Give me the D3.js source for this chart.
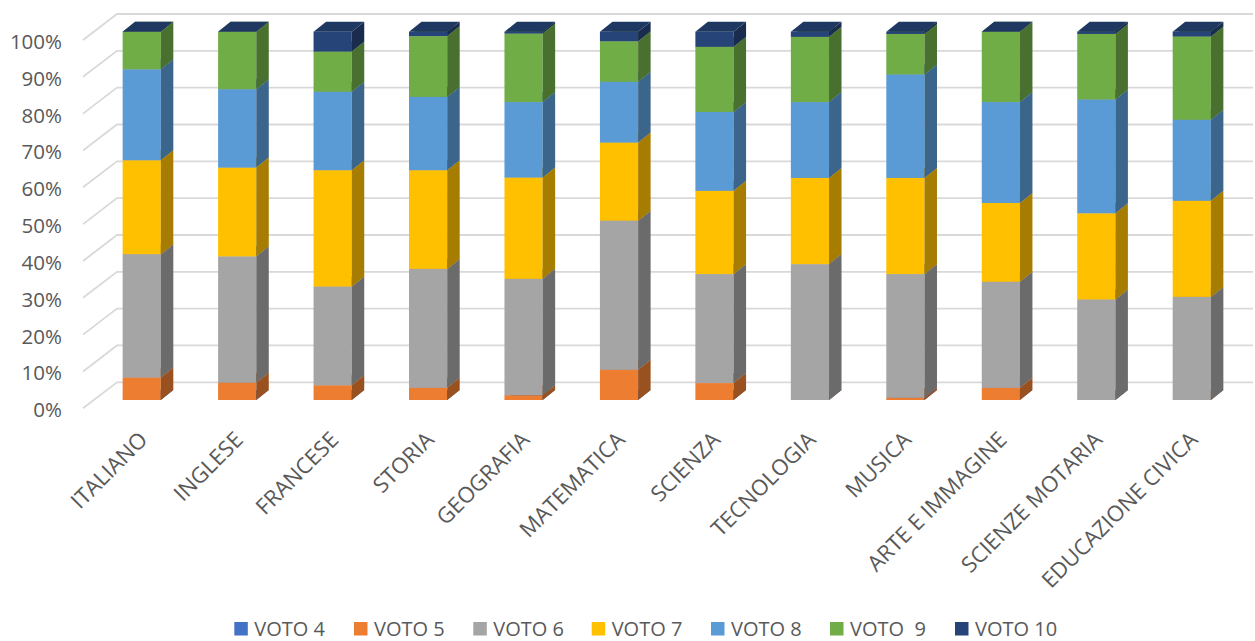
<!DOCTYPE html>
<html>
<head>
<meta charset="utf-8">
<script src="https://cdn.jsdelivr.net/npm/d3@7"></script>
<style>
  body { margin: 0; background: #fff; }
  text { font-family: "Open Sans", "Liberation Sans", sans-serif; fill: #595959; }
</style>
</head>
<body>
<div id="chart"></div>
<script>
// subjects on the x axis
var categories = ["ITALIANO", "INGLESE", "FRANCESE", "STORIA", "GEOGRAFIA", "MATEMATICA",
  "SCIENZA", "TECNOLOGIA", "MUSICA", "ARTE E IMMAGINE", "SCIENZE MOTARIA", "EDUCAZIONE CIVICA"];

var seriesNames = ["VOTO 4", "VOTO 5", "VOTO 6", "VOTO 7", "VOTO 8", "VOTO  9", "VOTO 10"];
var seriesColors = ["#4472C4", "#ED7D31", "#A5A5A5", "#FFC000", "#5B9BD5", "#70AD47", "#264478"];

// percent of students per grade
var voto4  = [0, 0, 0, 0, 0, 0, 0, 0, 0, 0, 0, 0];
var voto5  = [6.1, 4.7, 4.0, 3.3, 1.3, 8.2, 4.6, 0, 0.6, 3.3, 0, 0];
var voto6  = [33.5, 34.3, 26.8, 32.3, 31.6, 40.5, 29.6, 36.9, 33.6, 28.8, 27.3, 28.0];
var voto7  = [25.5, 24.1, 31.6, 26.8, 27.5, 21.2, 22.6, 23.4, 26.1, 21.4, 23.4, 26.1];
var voto8  = [24.7, 21.3, 21.3, 19.9, 20.5, 16.5, 21.4, 20.6, 28.1, 27.4, 30.9, 22.0];
var voto9  = [10.2, 15.6, 10.9, 16.5, 18.6, 11.0, 17.7, 17.7, 11.0, 19.1, 17.8, 22.6];
var voto10 = [0, 0, 5.4, 1.2, 0.5, 2.6, 4.1, 1.4, 0.6, 0, 0.6, 1.3];

var yTicks = [0, 0.1, 0.2, 0.3, 0.4, 0.5, 0.6, 0.7, 0.8, 0.9, 1];

var allSeries = [voto4, voto5, voto6, voto7, voto8, voto9, voto10];

var svgWidth = 1255;
var svgHeight = 641;

var svg = d3.select("#chart")
  .append("svg")
  .attr("width", svgWidth)
  .attr("height", svgHeight);

// rows for d3.stack
var rows = categories.map(function(c, i) {
  var r = { cat: c };
  seriesNames.forEach(function(s, k) { r[s] = allSeries[k][i]; });
  return r;
});

var stacked = d3.stack()
  .keys(seriesNames)
  .offset(d3.stackOffsetExpand)(rows);

var x = d3.scaleBand()
  .domain(categories)
  .range([94, 1239.5])
  .paddingInner(0.6)
  .paddingOuter(0.3);

var y = d3.scaleLinear()
  .domain([0, 1])
  .range([400, 31.7]);

var color = d3.scaleOrdinal().domain(seriesNames).range(seriesColors);

// 3d offsets
var depthX = 12.5, depthY = -10;      // bar depth
var wallBackX = 117, wallFrontX = 83;  // floor / side wall
var backDy = -17.7, frontDy = 8.3;

function shade(c, k) {
  var col = d3.rgb(c);
  return d3.rgb(col.r * k, col.g * k, col.b * k).toString();
}

// gridlines (back wall + side wall)
var grid = svg.append("g");
yTicks.forEach(function(t) {
  var yb = y(t) + backDy;
  var yf = y(t) + frontDy;
  grid.append("path")
    .attr("d", "M" + wallFrontX + "," + yf + "L" + wallBackX + "," + yb + "L1253," + yb)
    .attr("fill", "none")
    .attr("stroke", "#D9D9D9")
    .attr("stroke-width", 1.8);
});

// y tick labels
svg.append("g").selectAll("text")
  .data(yTicks)
  .enter()
  .append("text")
  .attr("x", 62)
  .attr("y", d => y(d) + frontDy + 1)
  .attr("text-anchor", "end")
  .attr("dominant-baseline", "central")
  .attr("font-size", 20.5)
  .text(d => d3.format(".0%")(d));

// bars: draw bar by bar, segment by segment from bottom to top
var w = x.bandwidth();
categories.forEach(function(cat, i) {
  var g = svg.append("g");
  stacked.forEach(function(layer) {
    var d = layer[i];
    var x0 = x(cat), x1 = x0 + w;
    var yb = y(d[0]), yt = y(d[1]);
    var c = color(layer.key);
    // front face
    g.append("rect")
      .attr("x", x0)
      .attr("y", yt)
      .attr("width", w)
      .attr("height", Math.max(0, yb - yt))
      .attr("fill", c);
    // right side
    g.append("path")
      .attr("d", "M" + x1 + "," + yb + "L" + (x1 + depthX) + "," + (yb + depthY) +
        "L" + (x1 + depthX) + "," + (yt + depthY) + "L" + x1 + "," + yt + "Z")
      .attr("fill", shade(c, 0.65));
    // top face
    g.append("path")
      .attr("d", "M" + x0 + "," + yt + "L" + x1 + "," + yt +
        "L" + (x1 + depthX) + "," + (yt + depthY) + "L" + (x0 + depthX) + "," + (yt + depthY) + "Z")
      .attr("fill", shade(c, 0.82));
  });
});

// x labels rotated
svg.append("g").selectAll("text")
  .data(categories)
  .enter()
  .append("text")
  .attr("transform", d => `translate(${x(d) + w / 2 - 4}, 430) rotate(-45)`)
  .attr("text-anchor", "end")
  .attr("dy", "0.72em")
  .attr("font-size", 22)
  .text(d => d);

// legend
var legendX = [234.3, 354, 473.3, 591.7, 711, 830, 955];
var legend = svg.append("g");
seriesNames.forEach(function(s, k) {
  legend.append("rect")
    .attr("x", legendX[k])
    .attr("y", 622)
    .attr("width", 13.5)
    .attr("height", 13.5)
    .attr("fill", color(s));
  legend.append("text")
    .attr("x", legendX[k] + 20)
    .attr("y", 636)
    .attr("font-size", 20)
    .attr("xml:space", "preserve")
    .style("white-space", "pre")
    .text(s);
});
</script>
</body>
</html>
